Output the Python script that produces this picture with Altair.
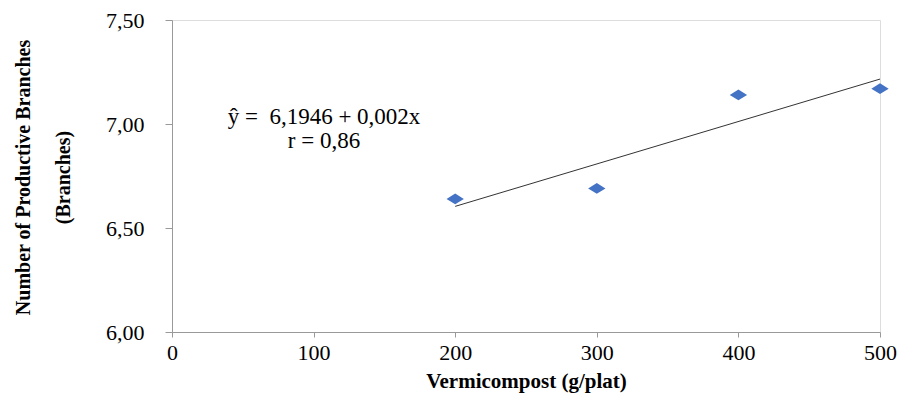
import altair as alt
import pandas as pd

# data
vermicompost = [200, 300, 400, 500]
branches = [6.64, 6.69, 7.14, 7.17]
equation_lines = ["ŷ =\u00a0 6,1946 + 0,002x", "r = 0,86"]
x_ticks = [0, 100, 200, 300, 400, 500]
y_ticks = [6.0, 6.5, 7.0, 7.5]

df = pd.DataFrame({"x": vermicompost, "y": branches})
ann = pd.DataFrame({"label": equation_lines, "row": [0, 1]})

SERIF = "Liberation Serif"

x_enc = alt.X(
    "x:Q",
    scale=alt.Scale(domain=[0, 500], nice=False),
    axis=alt.Axis(
        values=x_ticks,
        title="Vermicompost (g/plat)",
        titleFont=SERIF, titleFontSize=21, titleFontWeight="bold", titleColor="#000",
        titleBaseline="alphabetic", titleY=55,
        labelFont=SERIF, labelFontSize=22, labelColor="#000",
        labelPadding=5, tickSize=5, grid=False,
        domainColor="#999", tickColor="#999",
        labelFlush=False,
    ),
)
y_enc = alt.Y(
    "y:Q",
    scale=alt.Scale(domain=[6.0, 7.5], nice=False, zero=False),
    axis=alt.Axis(
        values=y_ticks,
        labelExpr="replace(format(datum.value, '.2f'), '.', ',')",
        title=["Number of Productive Branches", "(Branches)"],
        titleFont=SERIF, titleFontSize=20, titleFontWeight="bold", titleColor="#000",
        titleAngle=270, titleBaseline="middle", titleAlign="center",
        titleX=-149, titleY=157, titleLineHeight=40,
        labelFont=SERIF, labelFontSize=22, labelColor="#000",
        labelPadding=21, tickSize=7, grid=False,
        domainColor="#999", tickColor="#999",
        labelFlush=False,
    ),
)

points = alt.Chart(df).mark_point(
    shape="M-1,0L0,-0.62L1,0L0,0.62Z", filled=True, opacity=1, color="#4472C4", size=300
).encode(x=x_enc, y=y_enc)

trend = alt.Chart(df).transform_regression("x", "y", method="linear").mark_line(
    color="#333", strokeWidth=1
).encode(x=x_enc, y=y_enc)

text_eq = alt.Chart(ann).transform_filter("datum.row == 0").mark_text(
    font=SERIF, fontSize=23, color="#000", align="center", baseline="middle"
).encode(text="label:N", x=alt.value(152), y=alt.value(97))

text_r = alt.Chart(ann).transform_filter("datum.row == 1").mark_text(
    font=SERIF, fontSize=23, color="#000", align="center", baseline="middle"
).encode(text="label:N", x=alt.value(152), y=alt.value(121))

chart = alt.layer(trend, points, text_eq, text_r).properties(
    width=708, height=312,
    autosize=alt.AutoSizeParams(type="none"),
    padding={"left": 172, "top": 20, "right": 26, "bottom": 62},
).configure_view(stroke=None).configure(background="white")

chart.save("out.html", embed_options={"renderer": "svg", "actions": False})
